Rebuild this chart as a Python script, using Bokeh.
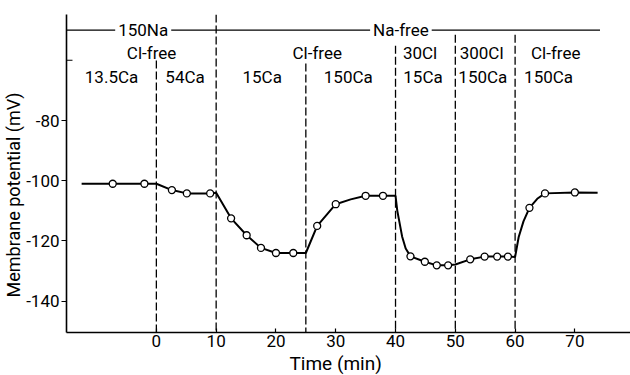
from bokeh.plotting import figure
from bokeh.models import Range1d, FixedTicker, Label, Title
from bokeh.embed import file_html
from bokeh.resources import INLINE

# measured points (open circles)
t_pts = [-7.3, -2.0, 2.6, 5.1, 9.0, 12.5, 15.1, 17.5, 20.0, 22.9, 26.9, 30.0, 35.0, 37.9,
         42.5, 44.9, 46.9, 48.8, 52.5, 54.9, 57.0, 58.8, 62.4, 65.0, 70.0]
v_pts = [-101.0, -101.0, -103.1, -104.2, -104.2, -112.5, -118.1, -122.3, -124.0, -124.0,
         -115.0, -107.8, -105.0, -105.0, -125.1, -126.9, -128.1, -128.1, -126.1, -125.2,
         -125.2, -125.2, -109.0, -104.2, -103.9]

# hand-drawn trace
t_curve = [-12.5, -7.3, -2.0, 0.0, 2.6, 5.1, 9.0, 10.0, 12.5, 15.1, 17.5, 20.0, 22.9, 25.0,
           26.9, 30.0, 32.5, 35.0, 37.9, 40.0, 40.3, 41.1, 41.7, 42.5, 44.9, 46.9, 48.8, 50.0,
           52.5, 54.9, 57.0, 58.8, 60.0, 60.6, 61.4, 62.4, 63.7, 65.0, 70.0, 73.8]
v_curve = [-101.0, -101.0, -101.0, -101.0, -103.1, -104.2, -104.2, -104.0, -112.5, -118.1,
           -122.3, -124.0, -124.0, -124.0, -115.0, -107.8, -106.2, -105.0, -105.0, -105.0,
           -110.0, -118.5, -122.5, -125.1, -126.9, -128.1, -128.1, -127.8, -126.1, -125.2,
           -125.2, -125.2, -125.3, -118.7, -113.5, -109.0, -106.0, -104.2, -103.9, -104.0]

# solution change times and top of their dashed lines
change_t = [0, 10, 25, 40, 50, 60]
change_top = [-60.1, -44.8, -61.1, -51.5, -51.5, -51.5]

x_ticks = [0, 10, 20, 30, 40, 50, 60, 70]
y_ticks = [-140, -120, -100, -80]
y_tick_labels = ["-140", "-120", "-100", "-80"]
y_inner_tick = [-60]

# condition labels: (text, t, v)
row_na = [("150Na", -2.2, -50.0), ("Na-free", 40.9, -50.0)]
row_cl = [("Cl-free", -0.8, -57.7), ("Cl-free", 26.9, -57.7), ("30Cl", 44.1, -57.7),
          ("300Cl", 54.4, -57.7), ("Cl-free", 66.8, -57.7)]
row_ca = [("13.5Ca", -7.5, -65.7), ("54Ca", 4.8, -65.7), ("15Ca", 17.7, -65.7),
          ("150Ca", 32.1, -65.7), ("15Ca", 44.6, -65.7), ("150Ca", 54.6, -65.7),
          ("150Ca", 65.6, -65.7)]

X0, X1 = -15.03, 79.3
Y0, Y1 = -150.4, -44.8
FONT = "Roboto"

p = figure(width=630, height=375, output_backend="svg", toolbar_location=None,
           x_range=Range1d(X0, X1), y_range=Range1d(Y0, Y1),
           min_border_left=65, min_border_right=0, min_border_top=14, min_border_bottom=43)
p.outline_line_color = None
p.grid.grid_line_color = None
p.background_fill_color = "white"

# axes
p.xaxis.ticker = FixedTicker(ticks=x_ticks)
p.xaxis.major_tick_in = 4
p.xaxis.major_tick_out = 0
p.xaxis.minor_tick_line_color = None
p.xaxis.major_label_standoff = 2
p.yaxis.ticker = FixedTicker(ticks=y_ticks)
p.yaxis.major_label_overrides = {t: l for t, l in zip(y_ticks, y_tick_labels)}
p.yaxis.major_tick_in = 0
p.yaxis.major_tick_out = 5
p.yaxis.minor_tick_line_color = None
p.yaxis.major_label_standoff = 2
for ax in (p.xaxis, p.yaxis):
    ax.axis_line_width = 1.6
    ax.axis_line_color = "black"
    ax.major_tick_line_color = "black"
    ax.major_tick_line_width = 1.2
    ax.major_label_text_font = FONT
    ax.major_label_text_font_size = "17px"
    ax.major_label_text_color = "black"

# unlabelled inner tick at -60
p.segment(x0=[X0] * len(y_inner_tick), y0=y_inner_tick, x1=[X0 + 1.0] * len(y_inner_tick),
          y1=y_inner_tick, line_color="black", line_width=1.2)

# dashed change lines
p.segment(x0=change_t, y0=change_top, x1=change_t, y1=[Y0] * len(change_t),
          line_color="black", line_width=1.3, line_dash="8 3")

# top Na line
p.line([X0, 74.2], [-50, -50], line_color="black", line_width=1.3)

# trace and points
p.line(t_curve, v_curve, line_color="black", line_width=2.0)
p.scatter(t_pts, v_pts, marker="circle", size=7, fill_color="white",
          line_color="black", line_width=1.3)

for rows in (row_na, row_cl, row_ca):
    for txt, t, v in rows:
        lab = Label(x=t, y=v, text=txt, text_align="center", text_baseline="middle",
                    text_font=FONT, text_font_size="17px", text_color="black")
        if rows is row_na:
            lab.background_fill_color = "white"
            lab.padding = 3
        p.add_layout(lab)

p.add_layout(Title(text="Membrane potential (mV)", align="left", offset=35,
                   text_font=FONT, text_font_size="18px", text_font_style="normal",
                   text_color="black", standoff=0), "left")
p.add_layout(Title(text="Time (min)", align="left", offset=223,
                   text_font=FONT, text_font_size="19px", text_font_style="normal",
                   text_color="black", standoff=0), "below")

open("out.html", "w").write(file_html(p, INLINE))
